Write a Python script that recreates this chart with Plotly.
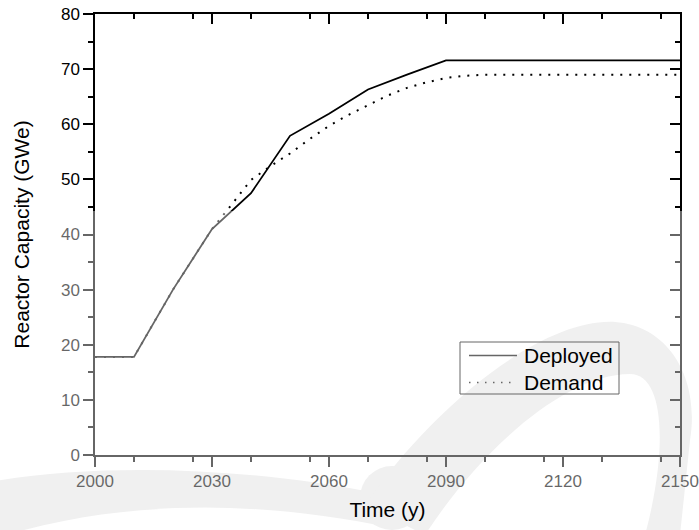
import plotly.graph_objects as go

# Installed reactor capacity (GWe) by year
deployed_years = [2000, 2010, 2020, 2030, 2040, 2050, 2060, 2070, 2080, 2090, 2150]
deployed_gwe = [17.8, 17.8, 30.0, 41.0, 47.5, 57.9, 61.9, 66.3, 69.0, 71.6, 71.6]

# Capacity demand (GWe) by year
demand_years = [2000, 2010, 2020, 2030, 2035, 2040, 2045, 2050, 2055, 2060, 2065,
                2070, 2075, 2080, 2085, 2090, 2095, 2100, 2150]
demand_gwe = [17.8, 17.8, 30.0, 41.0, 45.4, 49.9, 52.4, 54.7, 57.3, 59.7, 61.7,
              63.5, 65.2, 66.6, 67.6, 68.4, 68.8, 69.0, 69.0]

series_names = ["Deployed", "Demand"]
x_title = "Time (y)"
y_title = "Reactor Capacity (GWe)"

FONT = "Arial, 'Liberation Sans', sans-serif"
W, H = 699, 530
L, R, T, B = 95, 19, 14, 75
PW, PH = W - L - R, H - T - B


def fx(x):
    """pixel x -> paper x"""
    return (x - L) / PW


def fy(y):
    """pixel y -> paper y"""
    return (H - B - y) / PH


def path(cmds):
    out = []
    for c in cmds:
        if isinstance(c, str):
            out.append(c)
        else:
            out.append(f"{fx(c[0]):.4f},{fy(c[1]):.4f}")
    return " ".join(out)


fig = go.Figure()
fig.add_trace(go.Scatter(x=deployed_years, y=deployed_gwe, mode="lines",
                         name=series_names[0], showlegend=False,
                         line=dict(color="black", width=1.8)))
fig.add_trace(go.Scatter(x=demand_years, y=demand_gwe, mode="lines",
                         name=series_names[1], showlegend=False,
                         line=dict(color="black", width=2, dash="2px,7px")))
# empty trace that carries the mirrored top/right frame axes
fig.add_trace(go.Scatter(x=[None], y=[None], xaxis="x2", yaxis="y2",
                         mode="lines", showlegend=False, hoverinfo="skip"))

axis_common = dict(showgrid=False, zeroline=False, showline=True,
                   linecolor="black", linewidth=1.5, tickcolor="black",
                   tickwidth=1.5, ticklen=10, automargin=False)
tickfont = dict(family=FONT, size=17, color="black")

shapes = []
# faint background swoosh
swoosh_color = "#e6e6e6"
shapes.append(dict(type="path", xref="paper", yref="paper", layer="below",
                   fillcolor=swoosh_color, line=dict(width=0),
                   path=path(["M", (-10, 482), "C", (100, 462), (250, 468), (370, 492),
                              "L", (392, 528), "C", (260, 500), (120, 498), (-10, 540), "Z"])))
shapes.append(dict(type="circle", xref="paper", yref="paper", layer="below",
                   fillcolor=swoosh_color, line=dict(width=0),
                   x0=fx(360), x1=fx(424), y0=fy(530), y1=fy(466)))
shapes.append(dict(type="path", xref="paper", yref="paper", layer="below",
                   fillcolor=swoosh_color, line=dict(width=0),
                   path=path(["M", (365, 505), "C", (430, 410), (540, 318), (615, 322),
                              "C", (670, 326), (700, 380), (690, 440),
                              "L", (680, 535), "L", (645, 535),
                              "C", (668, 450), (665, 374), (630, 374),
                              "C", (565, 374), (480, 450), (425, 535), "Z"])))
# haze over the lower part of the page
shapes.append(dict(type="rect", xref="paper", yref="paper", layer="above",
                   fillcolor="white", opacity=0.4, line=dict(width=0),
                   x0=fx(-5), x1=fx(W + 5), y0=fy(H + 5), y1=fy(211)))

# legend box and samples
shapes.append(dict(type="rect", xref="paper", yref="paper", layer="below",
                   line=dict(color="black", width=1), fillcolor="rgba(0,0,0,0)",
                   x0=fx(460), x1=fx(619), y0=fy(394), y1=fy(342)))
shapes.append(dict(type="line", xref="paper", yref="paper", layer="below",
                   line=dict(color="black", width=1.5),
                   x0=fx(469), x1=fx(517), y0=fy(355.5), y1=fy(355.5)))
shapes.append(dict(type="line", xref="paper", yref="paper", layer="below",
                   line=dict(color="black", width=1.5, dash="1.5px,6.5px"),
                   x0=fx(469), x1=fx(517), y0=fy(382.5), y1=fy(382.5)))

annotations = [
    dict(text=series_names[0], x=fx(522), y=fy(355.5), xref="paper", yref="paper",
         xanchor="left", yanchor="middle", showarrow=False,
         font=dict(family=FONT, size=21, color="black")),
    dict(text=series_names[1], x=fx(522), y=fy(382.5), xref="paper", yref="paper",
         xanchor="left", yanchor="middle", showarrow=False,
         font=dict(family=FONT, size=21, color="black")),
]

fig.update_layout(
    width=W, height=H,
    margin=dict(l=L, r=R, t=T, b=B, pad=0, autoexpand=False),
    paper_bgcolor="white", plot_bgcolor="rgba(0,0,0,0)",
    font=dict(family=FONT, color="black"),
    xaxis=dict(range=[2000, 2150], tick0=2000, dtick=30, ticks="outside",
               tickfont=tickfont,
               minor=dict(dtick=15, ticks="outside", ticklen=5, tickwidth=1.5,
                          tickcolor="black"),
               title=dict(text=x_title, font=dict(family=FONT, size=21, color="black"),
                          standoff=12),
               **axis_common),
    yaxis=dict(range=[0, 80], tick0=0, dtick=10, ticks="outside",
               tickfont=tickfont,
               minor=dict(dtick=5, ticks="outside", ticklen=5, tickwidth=1.5,
                          tickcolor="black"),
               title=dict(text=y_title, font=dict(family=FONT, size=21, color="black"),
                          standoff=26),
               **axis_common),
    xaxis2=dict(range=[2000, 2150], tick0=2000, dtick=30, ticks="inside",
                overlaying="x", side="top", anchor="y2", showticklabels=False,
                minor=dict(dtick=15, ticks="inside", ticklen=5, tickwidth=1.5,
                           tickcolor="black"),
                **axis_common),
    yaxis2=dict(range=[0, 80], tick0=0, dtick=10, ticks="inside",
                overlaying="y", side="right", anchor="x2", showticklabels=False,
                minor=dict(dtick=5, ticks="inside", ticklen=5, tickwidth=1.5,
                           tickcolor="black"),
                **axis_common),
    shapes=shapes,
    annotations=annotations,
    showlegend=False,
)

fig.write_html("out.html")
